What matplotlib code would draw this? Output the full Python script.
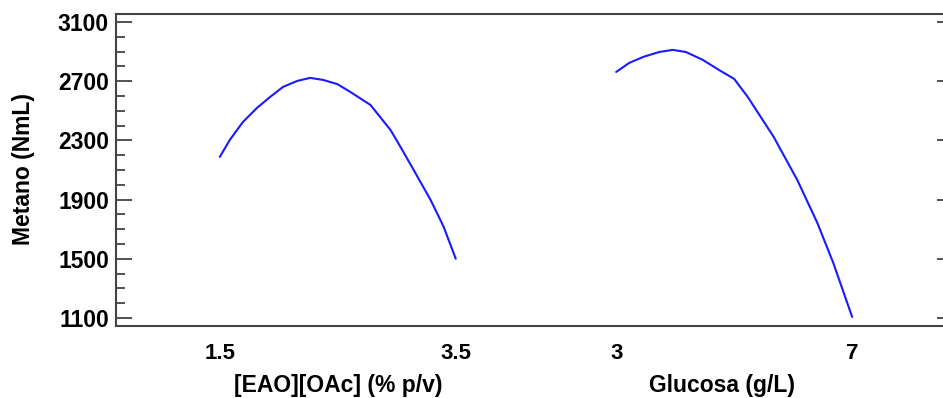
import numpy as np
import matplotlib.pyplot as plt
from matplotlib.ticker import MultipleLocator

plt.rcParams['font.family'] = ['Liberation Sans', 'DejaVu Sans']
plt.rcParams['font.weight'] = 'bold'

eao_x = [1.5, 1.585, 1.696, 1.815, 1.926, 2.036, 2.155, 2.266, 2.377, 2.496,
         2.606, 2.777, 2.947, 3.032, 3.143, 3.287, 3.398, 3.5]
eao_y = [2188, 2303, 2424, 2519, 2593, 2661, 2701, 2722, 2708, 2680,
         2627, 2539, 2370, 2255, 2100, 1897, 1715, 1500]

glu_x = [3.0, 3.22, 3.46, 3.73, 3.96, 4.18, 4.47, 4.74, 5.0, 5.23,
         5.67, 6.07, 6.41, 6.68, 7.0]
glu_y = [2762, 2823, 2864, 2897, 2911, 2897, 2843, 2776, 2715, 2593,
         2323, 2032, 1742, 1472, 1107]

factores = ['[EAO][OAc] (% p/v)', 'Glucosa (g/L)']
niveles = [(1.5, 3.5), (3, 7)]
etiquetas = [('1.5', '3.5'), ('3', '7')]
desplazamiento = [0.0, 1.68]   # posición de inicio de cada factor en el eje
pos_nombre = [0.5, 0.45]

y_ticks = [1100, 1500, 1900, 2300, 2700, 3100]

fig = plt.figure(figsize=(9.43, 3.98), dpi=100)
ax = fig.add_axes([0.123, 0.181, 0.877, 0.784])

gris = '#444444'
for (xs, ys), (lo, hi), off in zip([(eao_x, eao_y), (glu_x, glu_y)], niveles, desplazamiento):
    pos = [(x - lo) / (hi - lo) + off for x in xs]
    ax.plot(pos, ys, color='#1a1aff', lw=1.5, solid_joinstyle='round',
            solid_capstyle='round')

ax.set_xlim(-0.44, 3.065)
ax.set_ylim(1046, 3154)
ax.set_yticks(y_ticks)
ax.yaxis.set_minor_locator(MultipleLocator(100))
ax.tick_params(axis='y', which='major', direction='in', length=11.5, width=1.3,
               color=gris, labelsize=16.5, pad=5)
ax.tick_params(axis='y', which='minor', direction='in', length=6.5, width=1.3,
               color=gris)

# marcas cortas en el borde derecho
ax2 = ax.twinx()
ax2.set_ylim(ax.get_ylim())
ax2.set_yticks(y_ticks)
ax2.tick_params(axis='y', direction='in', length=4.5, width=1.3, color=gris,
                labelright=False)
for s in ax2.spines.values():
    s.set_visible(False)

xt, xl = [], []
for (l1, l2), off in zip(etiquetas, desplazamiento):
    xt += [off, off + 1]
    xl += [l1, l2]
ax.set_xticks(xt)
ax.set_xticklabels(xl)
ax.tick_params(axis='x', length=0, labelsize=16, pad=12)

for nombre, off, p in zip(factores, desplazamiento, pos_nombre):
    ax.text(off + p, -0.19, nombre, transform=ax.get_xaxis_transform(),
            ha='center', va='center', fontsize=16.5, fontweight='bold')

for s in ['left', 'top', 'bottom']:
    ax.spines[s].set_color(gris)
    ax.spines[s].set_linewidth(1.5)
ax.spines['right'].set_visible(False)

fig.text(0.025, 0.575, 'Metano (NmL)', rotation=90, ha='center', va='center',
         fontsize=16.5, fontweight='bold')

fig.savefig('out.png', dpi=100)
